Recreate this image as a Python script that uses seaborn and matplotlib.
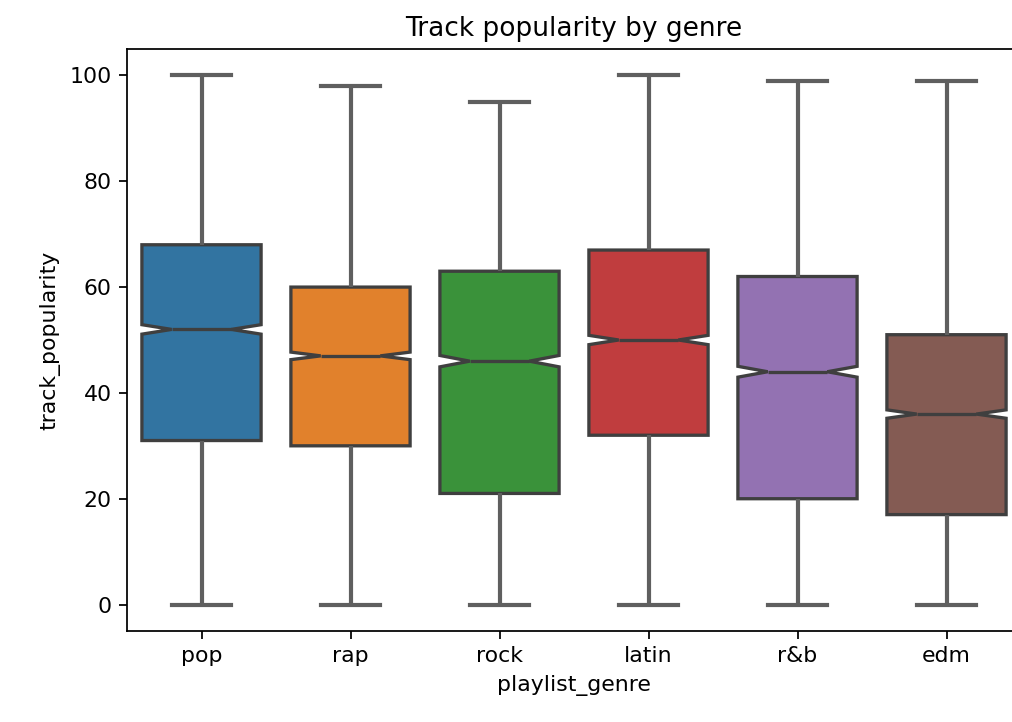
import numpy as np
import pandas as pd
import matplotlib
matplotlib.use("Agg")
import matplotlib.pyplot as plt
import seaborn as sns

# Values
genres = ["pop", "rap", "rock", "latin", "r&b", "edm"]
mins = [0, 0, 0, 0, 0, 0]
q1s = [31, 30, 21, 32, 20, 17]
medians = [52, 47, 46, 50, 44, 36]
q3s = [68, 60, 63, 67, 62, 51]
maxs = [100, 98, 95, 100, 99, 99]
# tracks per quartile block (sets notch size)
block_sizes = [1400, 1450, 1250, 1300, 1380, 1500]

rows = []
for g, lo, a, m, b, hi, k in zip(genres, mins, q1s, medians, q3s, maxs, block_sizes):
    vals = np.repeat([lo, a, m, b, hi], [1, k, k, k, 1])
    rows.append(pd.DataFrame({"playlist_genre": g, "track_popularity": vals}))
df = pd.concat(rows, ignore_index=True)

fig = plt.figure(figsize=(1012 / 158.125, 722 / 158.125), dpi=158.125)
ax = fig.add_axes([127 / 1012, 91 / 722, 894 / 1012, 582 / 722])

sns.boxplot(data=df, x="playlist_genre", y="track_popularity", hue="playlist_genre",
            order=genres, hue_order=genres, palette="tab10", legend=False,
            notch=True, whis=(0, 100), linewidth=1.5, linecolor="#3f3f3f",
            whiskerprops={"linewidth": 1.9, "color": "#5f5f5f"},
            capprops={"linewidth": 1.9, "color": "#5f5f5f"},
            ax=ax)
ax.set_title("Track popularity by genre")
ax.set_ylim(-5, 105)

fig.savefig("out.png", dpi=158.125)
